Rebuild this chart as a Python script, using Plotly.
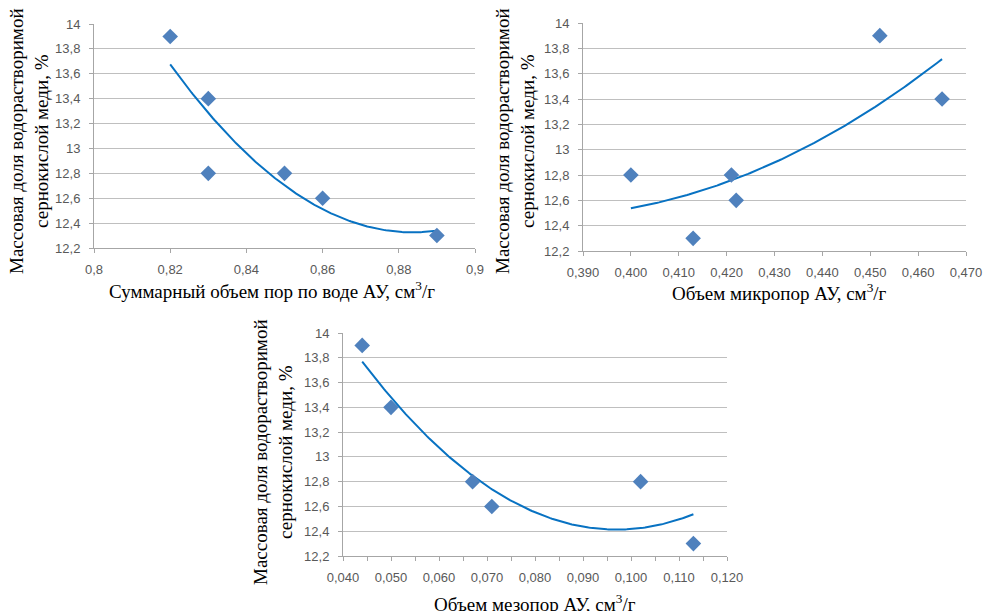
import numpy as np
import plotly.graph_objects as go

# Data
copper_share = [13.9, 13.4, 12.8, 12.8, 12.6, 12.3]
total_pore_volume = [0.82, 0.83, 0.83, 0.85, 0.86, 0.89]
copper_share_micro = [13.9, 13.4, 12.8, 12.8, 12.6, 12.3]
micropore_volume = [0.452, 0.465, 0.400, 0.421, 0.422, 0.413]
copper_share_meso = [13.9, 13.4, 12.8, 12.8, 12.6, 12.3]
mesopore_volume = [0.044, 0.050, 0.067, 0.102, 0.071, 0.113]

y_title = "Массовая доля водорастворимой<br>сернокислой меди, %"
x_titles = ["Суммарный объем пор по воде АУ, см<sup>3</sup>/г",
            "Объем микропор АУ, см<sup>3</sup>/г",
            "Объем мезопор АУ, см<sup>3</sup>/г"]

W, H = 984, 611
def px_x(v): return v / W
def px_y(v): return (H - v) / H

MARKER = "#4F81BD"
TREND = "#0872C2"

fig = go.Figure()

panels = [
    dict(x=total_pore_volume, y=copper_share, xa="x", ya="y",
         xdom=(94, 475), ydom=(24, 248), xr=[0.8, 0.9], dtick=0.02, minor=None, fmt=None),
    dict(x=micropore_volume, y=copper_share_micro, xa="x2", ya="y2",
         xdom=(583, 966), ydom=(23, 251), xr=[0.39, 0.47], dtick=0.01, minor=None, fmt=".3f"),
    dict(x=mesopore_volume, y=copper_share_meso, xa="x3", ya="y3",
         xdom=(343, 727), ydom=(333, 556), xr=[0.04, 0.12], dtick=0.01, minor=0.005, fmt=".3f"),
]

for i, p in enumerate(panels):
    xs = np.array(p["x"]); ys = np.array(p["y"])
    coef = np.polyfit(xs, ys, 2)
    xl = np.linspace(xs.min(), xs.max(), 200)
    fig.add_trace(go.Scatter(x=xl, y=np.polyval(coef, xl), mode="lines",
                             line=dict(color=TREND, width=2), xaxis=p["xa"], yaxis=p["ya"],
                             showlegend=False, hoverinfo="skip"))
    fig.add_trace(go.Scatter(x=p["x"], y=p["y"], mode="markers",
                             marker=dict(symbol="diamond", size=12, color=MARKER),
                             xaxis=p["xa"], yaxis=p["ya"], showlegend=False))

tickfont = dict(family="Liberation Sans, Arial", size=13, color="#595959")
layout = dict(
    width=W, height=H, margin=dict(l=0, r=0, t=0, b=0),
    paper_bgcolor="white", plot_bgcolor="white", separators=", ",
    font=dict(family="Liberation Serif, Times New Roman", size=19, color="#000000"),
)
for i, p in enumerate(panels):
    suffix = "" if i == 0 else str(i + 1)
    xaxis = dict(domain=[px_x(p["xdom"][0]), px_x(p["xdom"][1])], range=p["xr"],
                 dtick=p["dtick"], tick0=p["xr"][0], showgrid=False, zeroline=False,
                 showline=True, linecolor="#A6A6A6", linewidth=1,
                 ticks="outside", ticklen=4, tickcolor="#A6A6A6", ticklabelstandoff=5,
                 tickfont=tickfont, anchor="y" + suffix, fixedrange=True, automargin=False)
    if p["fmt"]:
        xaxis["tickformat"] = p["fmt"]
    if p["minor"]:
        xaxis["minor"] = dict(dtick=p["minor"], ticks="outside", ticklen=4, tickcolor="#A6A6A6", showgrid=False)
    yaxis = dict(domain=[px_y(p["ydom"][1]), px_y(p["ydom"][0])], range=[12.2, 14],
                 dtick=0.2, tick0=12.2, showgrid=True, gridcolor="#BFBFBF", gridwidth=1,
                 zeroline=False, showline=True, linecolor="#A6A6A6", linewidth=1,
                 ticks="outside", ticklen=4, tickcolor="#A6A6A6", ticklabelstandoff=6,
                 tickfont=tickfont, anchor="x" + suffix, fixedrange=True, automargin=False)
    layout["xaxis" + suffix] = xaxis
    layout["yaxis" + suffix] = yaxis

fig.update_layout(**layout)

ann = []
ytitle_pos = [(29, 141), (515, 141), (273, 452)]
xtitle_pos = [(272, 290), (779, 292), (535, 603)]
for (cx, cy) in ytitle_pos:
    ann.append(dict(text=y_title, x=px_x(cx), y=px_y(cy), xref="paper", yref="paper",
                    xanchor="center", yanchor="middle", textangle=-90, showarrow=False,
                    font=dict(family="Liberation Serif, Times New Roman", size=19, color="#000")))
for (cx, cy), t in zip(xtitle_pos, x_titles):
    ann.append(dict(text=t, x=px_x(cx), y=px_y(cy), xref="paper", yref="paper",
                    xanchor="center", yanchor="middle", showarrow=False,
                    font=dict(family="Liberation Serif, Times New Roman", size=19, color="#000")))
fig.update_layout(annotations=ann)

fig.write_html("out.html", config={"displayModeBar": False},
               post_script="document.body.style.margin='0';document.body.style.overflow='hidden';")
